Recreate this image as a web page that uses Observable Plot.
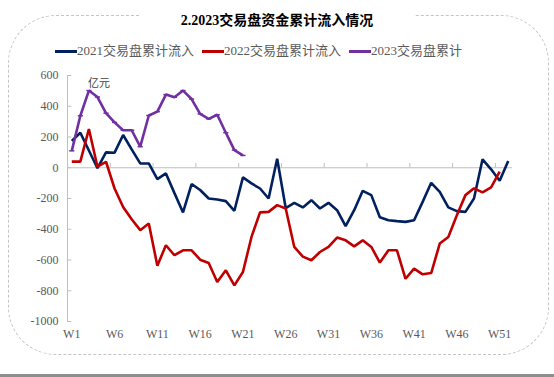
<!DOCTYPE html>
<html>
<head>
<meta charset="utf-8">
<script src="https://cdn.jsdelivr.net/npm/d3@7"></script>
<script src="https://cdn.jsdelivr.net/npm/@observablehq/plot@0.6"></script>
<style>
  html, body { margin: 0; padding: 0; background: #fff; }
  #chart { position: relative; width: 554px; height: 377px; background: #fff; overflow: hidden;
           font-family: "Liberation Serif", "Noto Sans CJK SC", serif; color: #595959; }
  #frame { position: absolute; left: 8px; top: 15px; width: 539px; height: 338px;
           border: 1px dashed #c4c4c4; border-radius: 48px; }
  #title { position: absolute; left: 0; top: 11px; width: 554px; text-align: center; line-height: 18px; }
  #title span { background: #fff; padding: 0 42px; font-size: 14px; font-weight: bold; color: #000; }
  #legend { position: absolute; left: 55px; top: 43px; height: 16px; display: flex; align-items: center;
            font-size: 13px; line-height: 16px; color: #595959; white-space: nowrap; }
  .item { display: flex; align-items: center; margin-right: 8px; }
  .sw { width: 22px; height: 3px; }
  #unit { position: absolute; left: 88px; top: 75px; font-size: 11px; color: #404040;
          font-family: "Noto Sans CJK SC", sans-serif; line-height: 14px; }
  #plot { position: absolute; left: 0; top: 60px; }
  #bottombar { position: absolute; left: 0; top: 374px; width: 554px; height: 3px; background: #8e8e8e; }
</style>
</head>
<body>
<div id="chart">
  <div id="frame"></div>
  <div id="plot"></div>
  <div id="title"><span>2.2023交易盘资金累计流入情况</span></div>
  <div id="legend"></div>
  <div id="unit">亿元</div>
  <div id="bottombar"></div>
</div>
<script>
// ---- data ----
const seriesNames = ["2021交易盘累计流入", "2022交易盘累计流入", "2023交易盘累计"];
const seriesColors = ["#002060", "#C00000", "#7030A0"];

const flow2021 = [175, 228, 112, -3, 100, 98, 213, 120, 28, 28,
  -74, -37, -165, -291, -106, -145, -200, -206, -217, -280,
  -63, -102, -135, -200, 58, -262, -228, -258, -211, -265,
  -228, -276, -380, -276, -150, -178, -322, -341, -347, -352,
  -341, -222, -98, -157, -258, -282, -287, -200, 55, -10,
  -85, 44];

const flow2022 = [40, 40, 252, 7, 39, -135, -255, -335, -406, -362,
  -637, -504, -569, -537, -537, -598, -620, -743, -667, -765,
  -678, -450, -290, -287, -243, -265, -515, -578, -602, -548,
  -515, -454, -472, -511, -472, -515, -617, -537, -537, -722,
  -656, -693, -685, -493, -450, -309, -178, -134, -160, -128,
  -26];

const flow2023 = [110, 338, 502, 460, 355, 295, 244, 244, 137, 340,
  365, 476, 459, 502, 447, 350, 318, 345, 228, 115, 80];

const weekLabels = ["W1", "W6", "W11", "W16", "W21", "W26", "W31", "W36", "W41", "W46", "W51"];
const yTicks = [600, 400, 200, 0, -200, -400, -600, -800, -1000];
const weekCount = 52;

// ---- build ----
const toRows = (vals, name) => vals.map((v, i) => ({week: i + 1, value: v, series: name}));
const rows = [
  ...toRows(flow2021, seriesNames[0]),
  ...toRows(flow2022, seriesNames[1]),
  ...toRows(flow2023, seriesNames[2])
];
const rows2023 = toRows(flow2023, seriesNames[2]);
const labelWeeks = weekLabels.map(l => +l.slice(1));
const xMin = 0.5, xMax = weekCount + 0.5;
const catTicks = d3.range(5.5, weekCount, 5);

const legend = document.getElementById("legend");
seriesNames.forEach((n, i) => {
  const it = document.createElement("div");
  it.className = "item";
  it.innerHTML = `<div class="sw" style="background:${seriesColors[i]}"></div><span>${n}</span>`;
  legend.appendChild(it);
});

const axisColor = "#bfbfbf";
const chart = Plot.plot({
  width: 554,
  height: 300,
  marginLeft: 67,
  marginRight: 42,
  marginTop: 15,
  marginBottom: 39,
  x: {domain: [xMin, xMax]},
  y: {domain: [-1000, 600]},
  color: {domain: seriesNames, range: seriesColors},
  style: {background: "transparent", fontFamily: "'Liberation Serif', 'Noto Sans CJK SC', serif", fontSize: "12px", color: "#595959"},
  marks: [
    Plot.ruleY([0], {x1: xMin, x2: xMax, stroke: axisColor, strokeWidth: 1}),
    Plot.ruleX([xMin], {y1: -1000, y2: 600, stroke: axisColor, strokeWidth: 1}),
    Plot.ruleY(yTicks, {x1: xMin, x2: xMin + 0.5, stroke: axisColor}),
    Plot.ruleX(catTicks, {y1: 0, y2: 28, stroke: axisColor}),
    Plot.axisY({ticks: yTicks, tickSize: 0, tickPadding: 9, label: null, tickFormat: d => String(d)}),
    Plot.axisX({ticks: labelWeeks, tickSize: 0, tickPadding: 8, label: null, tickFormat: d => "W" + d}),
    Plot.line(rows, {x: "week", y: "value", z: "series", stroke: "series", strokeWidth: 2.6, strokeLinejoin: "miter", strokeLinecap: "butt"}),
    Plot.link(rows2023, {x1: d => d.week - 0.3, x2: d => d.week + 0.3, y1: "value", y2: "value", stroke: seriesColors[2], strokeWidth: 1.5})
  ]
});
document.getElementById("plot").appendChild(chart);
</script>
</body>
</html>
